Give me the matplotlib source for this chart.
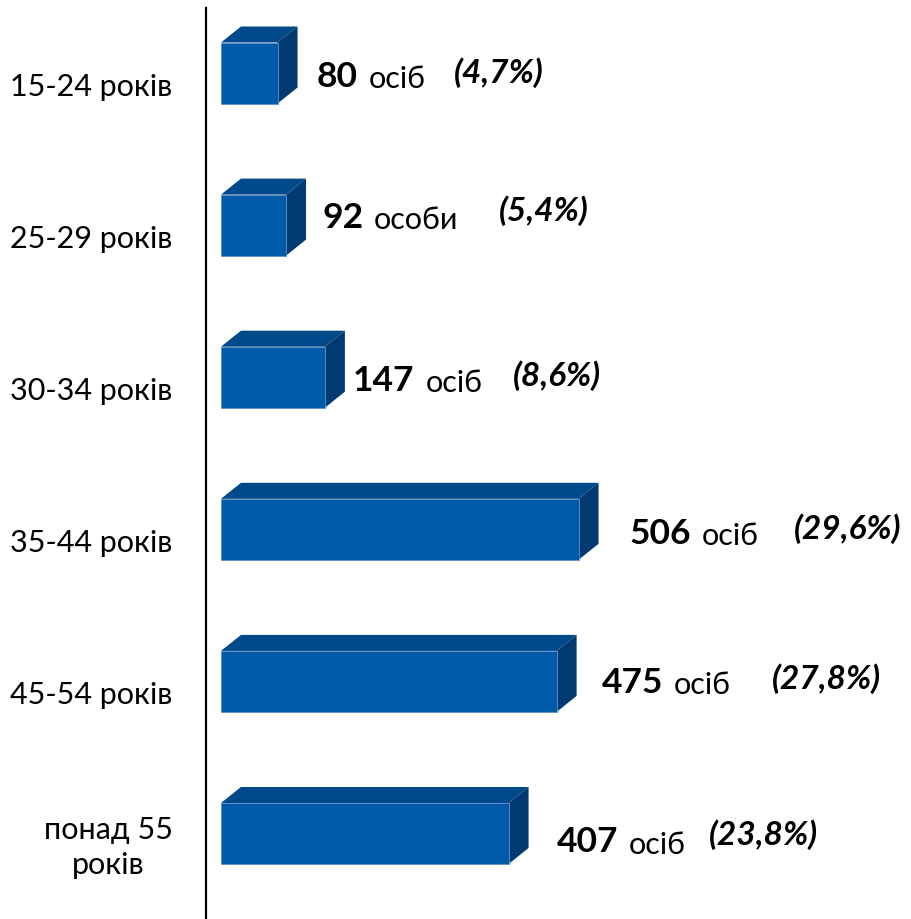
import numpy as np
import matplotlib
matplotlib.use("Agg")
import matplotlib.pyplot as plt

plt.rcParams['font.family'] = ['Lato', 'DejaVu Sans']

# data
categories = ["15-24 років", "25-29 років", "30-34 років", "35-44 років", "45-54 років", "понад 55\nроків"]
counts = [80, 92, 147, 506, 475, 407]
units = ["осіб", "особи", "осіб", "осіб", "осіб", "осіб"]
shares = [4.7, 5.4, 8.6, 29.6, 27.8, 23.8]

# label nudges in pixels (hand placed in the original)
num_gap = [19, 16, 8, 31, 25, 28]
num_drop = [14, 3, 14, 15, 12, 19]
pct_gap = [28, 40, 30, 35, 41, 23]
pct_rise = [5, 8, 6, 6, 5, 8]

FRONT = "#005AAA"
TOP = "#00498B"
SIDE = "#003A70"

W, H, DPI = 912, 919, 100
px_per_unit = 0.7066      # horizontal scale
row_px = 152.1            # distance between bars
x0_px, y0_px, axis_px = 221, 73, 206

fig = plt.figure(figsize=(W / DPI, H / DPI), dpi=DPI)
ax = fig.add_axes([axis_px / W, 0, 1 - axis_px / W, 1])
ax.set_xlim((axis_px - x0_px) / px_per_unit, (W - x0_px) / px_per_unit)
ax.set_ylim((H - y0_px) / row_px, -y0_px / row_px)

pos = np.arange(len(counts))
bh = 61 / row_px
ddx = 20 / px_per_unit
ddy = 16 / row_px

ax.barh(pos, counts, height=bh, left=0, color=FRONT, edgecolor="#5d8fc8", linewidth=0.6, zorder=3)
for i, v in zip(pos, counts):
    top_y = i - bh / 2
    bot_y = i + bh / 2
    ax.fill([0, v, v + ddx, ddx], [top_y, top_y, top_y - ddy, top_y - ddy],
            color=TOP, lw=0, zorder=2)
    ax.fill([v, v + ddx, v + ddx, v], [top_y, top_y - ddy, bot_y - ddy, bot_y],
            color=SIDE, lw=0, zorder=2)

pt = 72 / DPI
for k, (i, v) in enumerate(zip(pos, counts)):
    num = ax.annotate(str(v), xy=(v + ddx, i), xytext=(num_gap[k] * pt, -num_drop[k] * pt),
                      textcoords="offset points", ha="left", va="baseline",
                      fontsize=25.5, fontweight="bold", color="black")
    unit = ax.annotate(units[k], xy=(1, 0), xycoords=num, xytext=(11 * pt, 0),
                       textcoords="offset points", ha="left", va="bottom",
                       fontsize=22, color="black")
    lbl = "(" + f"{shares[k]:.1f}".replace(".", ",") + "%)"
    ax.annotate(lbl, xy=(1, 0), xycoords=unit, xytext=(pct_gap[k] * pt, pct_rise[k] * pt),
                textcoords="offset points", ha="left", va="bottom",
                fontsize=24, fontweight="bold", fontstyle="italic", color="black")

ax.set_yticks(pos + 0.09)
ax.set_yticklabels(categories, fontsize=22)
for t in ax.get_yticklabels():
    t.set_multialignment("center")
    t.set_verticalalignment("center")
    t.set_linespacing(1.3)
ax.tick_params(axis="y", length=0, pad=24)
ax.set_xticks([])

for s in ["top", "right", "bottom"]:
    ax.spines[s].set_visible(False)
ax.spines["left"].set_linewidth(1.6)
ax.spines["left"].set_bounds((H - y0_px) / row_px, -0.43)
ax.patch.set_alpha(0)

fig.savefig("out.png", dpi=DPI, facecolor="white")
